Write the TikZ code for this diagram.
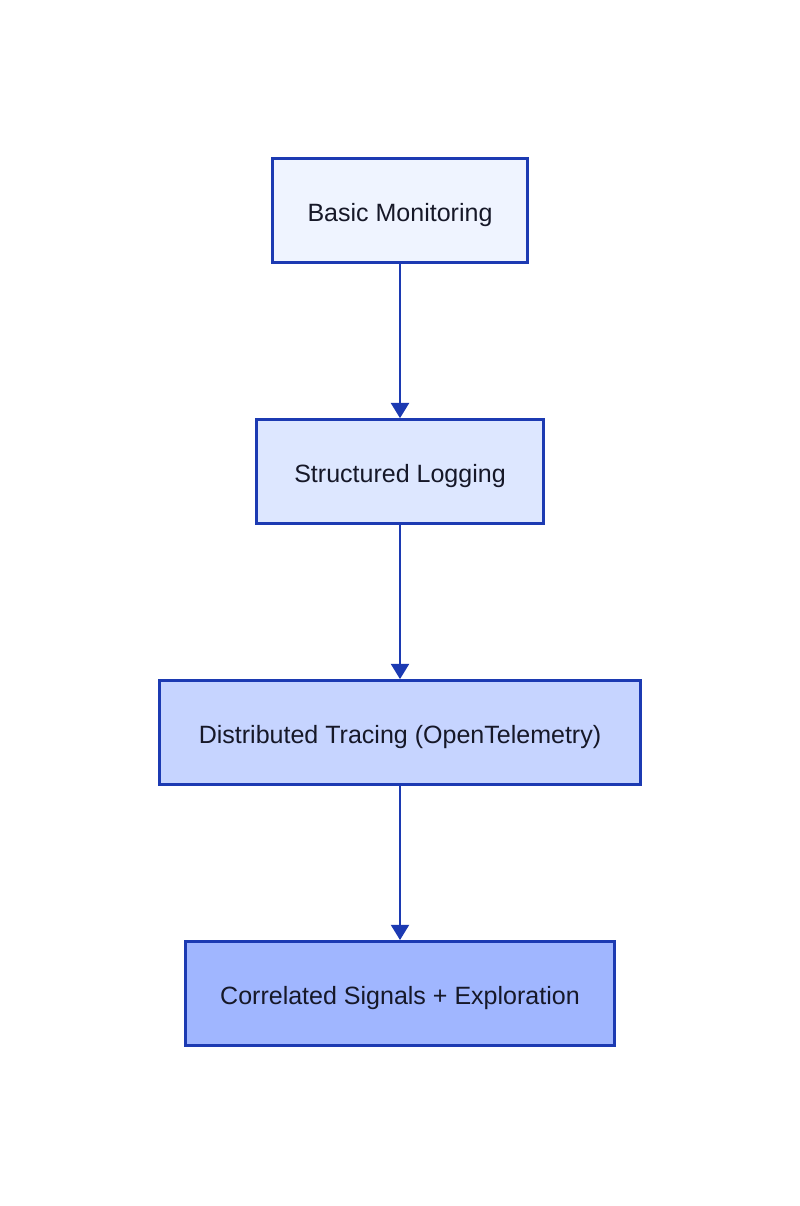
\documentclass[tikz,border=0pt]{standalone}
\usepackage{fontspec}
\setmainfont{Liberation Sans}
\usepackage{xcolor}
\usepackage{tikz}
\usetikzlibrary{arrows.meta, positioning}
\definecolor{myblue}{RGB}{28,58,178}
\definecolor{mytext}{RGB}{22,24,40}
\definecolor{fillone}{RGB}{239,244,255}
\definecolor{filltwo}{RGB}{221,231,255}
\definecolor{fillthree}{RGB}{198,212,255}
\definecolor{fillfour}{RGB}{160,182,255}
\tikzset{
  stage/.style={rectangle, draw=myblue, line width=1.8pt,
    minimum height=2.6cm, inner xsep=0.85cm, text=mytext,
    text height=0.68cm, text depth=0.13cm,
    font=\fontsize{17.8}{21}\selectfont},
  arrow/.style={-{Triangle[width=0.45cm, length=0.38cm]}, line width=1.6pt, color=myblue}
}

\begin{document}
\begin{tikzpicture}[node distance=3.86cm]
  \useasboundingbox (0,0) rectangle (20,-30.15);

  % Stages
  \node[stage, fill=fillone, minimum width=6.37cm] (basic) at (10,-5.2625) {Basic Monitoring};
  \node[stage, fill=filltwo, minimum width=7.17cm, below=of basic] (logging) {Structured Logging};
  \node[stage, fill=fillthree, minimum width=12.02cm, below=of logging] (tracing) {Distributed Tracing (OpenTelemetry)};
  \node[stage, fill=fillfour, minimum width=10.72cm, below=of tracing] (signals) {Correlated Signals + Exploration};

  % Arrows
  \draw[arrow] (basic) -- (logging);
  \draw[arrow] (logging) -- (tracing);
  \draw[arrow] (tracing) -- (signals);
\end{tikzpicture}
\end{document}
